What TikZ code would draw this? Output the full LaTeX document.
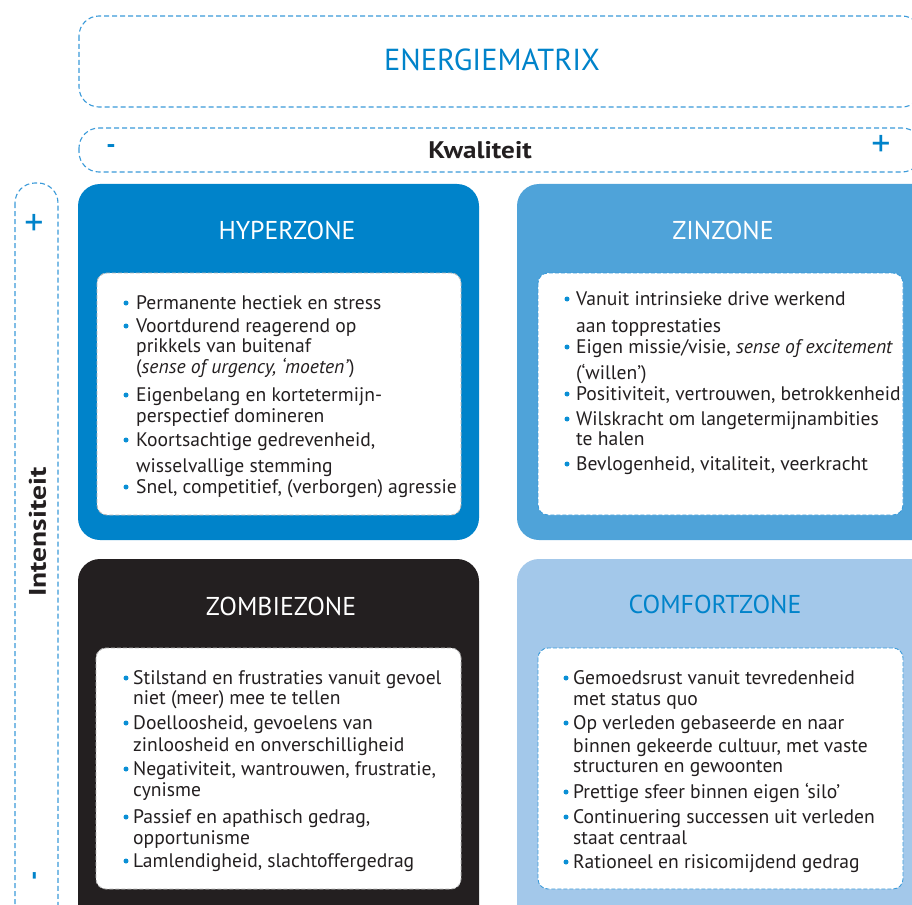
\documentclass[tikz,border=0pt]{standalone}
\usepackage{fontspec}
\setmainfont{PT Sans}
\definecolor{hypc}{HTML}{0083CA}
\definecolor{zinc}{HTML}{4FA3D9}
\definecolor{zomc}{HTML}{231F20}
\definecolor{comc}{HTML}{A3C8EA}
\definecolor{dashc}{HTML}{3A9AD9}
\definecolor{bulc}{HTML}{0A8FD5}
\definecolor{txtc}{HTML}{231F20}
\definecolor{grayd}{HTML}{B8B8B8}
\tikzset{
  dashframe/.style={draw=dashc, line width=1.1pt, dash pattern=on 5pt off 3pt, rounded corners=20pt},
  innerbox/.style={fill=white, line width=0.9pt, dash pattern=on 4pt off 2pt, rounded corners=10pt},
  bodytxt/.style={anchor=base west, inner sep=0pt, text=txtc, font=\fontsize{19.6}{23}\selectfont},
  zonetitle/.style={anchor=center, inner sep=0pt, font=\fontsize{25.8}{28}\selectfont},
  signtxt/.style={inner sep=0pt, text=hypc},
}
\newcommand\zl[4]{\node[bodytxt] (#1) at (#2,#3) {#4};}
\newcommand\zb[2]{\fill[bulc] (#1,#2) circle (2.5pt);}
\begin{document}
\begin{tikzpicture}[x=1pt,y=-1pt]
\useasboundingbox (0,0) rectangle (912,904);
\clip (0,0) rectangle (912,904);
% header frames
\draw[dashframe] (79,16) rectangle (922,107);
\node[inner sep=0pt, text=hypc, font=\fontsize{30.4}{34}\selectfont] (title) at (492,60) {ENERGIEMATRIX};
\draw[dashframe] (79,128) rectangle (922,172);
\node[inner sep=0pt, text=txtc, font=\fontsize{24}{28}\bfseries] (kwal) at (480,150) {\scalebox{1.13}[1]{Kwaliteit}};
\node[signtxt, font=\fontsize{26}{28}\bfseries] (kmin) at (111,149) {-};
\node[signtxt, font=\fontsize{38}{40}\selectfont] (kplus) at (881,146) {+};
\draw[dashframe] (15,183) rectangle (58,930);
\node[signtxt, font=\fontsize{38}{40}\selectfont] (iplus) at (34,225) {+};
\node[signtxt, font=\fontsize{26}{28}\bfseries, rotate=90] (imin) at (37.5,876) {-};
\node[inner sep=0pt, text=txtc, font=\fontsize{24}{28}\bfseries, rotate=90] (inten) at (37.5,532) {\scalebox{1.23}[1]{Intensiteit}};

% zones
\fill[hypc, rounded corners=22pt] (78,184) rectangle (479,540);
\fill[zinc, rounded corners=22pt] (517,184) rectangle (935,540);
\fill[zomc, rounded corners=22pt] (78,559) rectangle (479,935);
\fill[comc, rounded corners=22pt] (517,559) rectangle (935,935);

\draw[innerbox, draw=grayd] (97,273) rectangle (461,515);
\draw[innerbox, draw=dashc] (538,273) rectangle (903,515);
\draw[innerbox, draw=grayd] (96,648) rectangle (461,889);
\draw[innerbox, draw=dashc] (538,648) rectangle (903,889);

\node[zonetitle, text=white] (hyp) at (287,230) {HYPERZONE};
\node[zonetitle, text=white] (zin) at (723,230) {ZINZONE};
\node[zonetitle, text=white] (zom) at (281,606) {ZOMBIEZONE};
\node[zonetitle, text=hypc] (com) at (715,604) {COMFORTZONE};

% hyperzone
\zb{126}{303}\zl{h1}{136}{309}{Permanente hectiek en stress}
\zb{126}{326}\zl{h2a}{136}{332}{Voortdurend reagerend op}
\zl{h2b}{136}{352}{prikkels van buitenaf}
\zl{h2c}{136}{373}{(\textit{sense of urgency, ‘moeten’})}
\zb{126}{395}\zl{h3a}{136}{401}{Eigenbelang en kortetermijn-}
\zl{h3b}{136}{422}{perspectief domineren}
\zb{126}{440}\zl{h4a}{136}{446}{Koortsachtige gedrevenheid,}
\zl{h4b}{136}{472}{wisselvallige stemming}
\zb{126}{487}\zl{h5}{136}{493}{Snel, competitief, (verborgen) agressie}

% zinzone
\zb{567}{299}\zl{z1a}{576}{305}{Vanuit intrinsieke drive werkend}
\zl{z1b}{576}{332}{aan topprestaties}
\zb{567}{347}\zl{z2a}{576}{353}{Eigen missie/visie, \textit{sense of excitement}}
\zl{z2b}{576}{379}{(‘willen’)}
\zb{567}{394}\zl{z3}{576}{400}{Positiviteit, vertrouwen, betrokkenheid}
\zb{567}{419}\zl{z4a}{576}{425}{Wilskracht om langetermijnambities}
\zl{z4b}{576}{445}{te halen}
\zb{567}{464}\zl{z5}{576}{470}{Bevlogenheid, vitaliteit, veerkracht}

% zombiezone
\zb{126}{678}\zl{m1a}{133}{684}{Stilstand en frustraties vanuit gevoel}
\zl{m1b}{133}{704}{niet (meer) mee te tellen}
\zb{126}{723}\zl{m2a}{133}{729}{Doelloosheid, gevoelens van}
\zl{m2b}{133}{751}{zinloosheid en onverschilligheid}
\zb{126}{769}\zl{m3a}{133}{775}{Negativiteit, wantrouwen, frustratie,}
\zl{m3b}{133}{796}{cynisme}
\zb{126}{817}\zl{m4a}{133}{823}{Passief en apathisch gedrag,}
\zl{m4b}{133}{844}{opportunisme}
\zb{126}{861}\zl{m5}{133}{867}{Lamlendigheid, slachtoffergedrag}

% comfortzone
\zb{566}{678}\zl{c1a}{573}{684}{Gemoedsrust vanuit tevredenheid}
\zl{c1b}{573}{705}{met status quo}
\zb{566}{723}\zl{c2a}{573}{729}{Op verleden gebaseerde en naar}
\zl{c2b}{573}{752}{binnen gekeerde cultuur, met vaste}
\zl{c2c}{573}{772}{structuren en gewoonten}
\zb{566}{792}\zl{c3}{573}{798}{Prettige sfeer binnen eigen ‘silo’}
\zb{566}{817}\zl{c4a}{573}{823}{Continuering successen uit verleden}
\zl{c4b}{573}{844}{staat centraal}
\zb{566}{862}\zl{c5}{573}{868}{Rationeel en risicomijdend gedrag}
\end{tikzpicture}
\end{document}
